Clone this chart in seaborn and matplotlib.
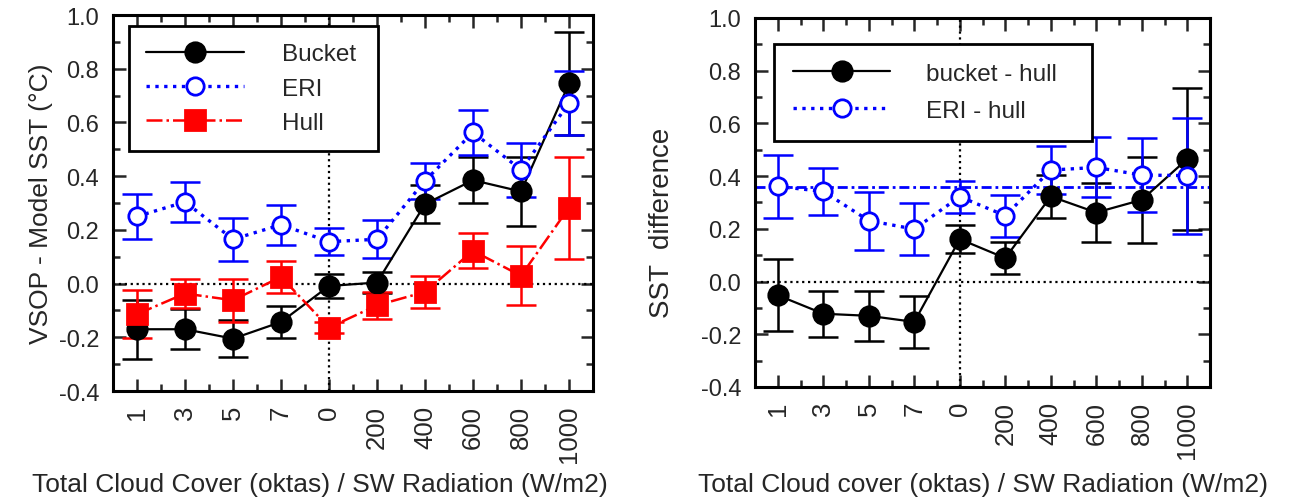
#!/usr/bin/env python3
"""
VSOP vs model SST by cloud cover / SW radiation bins, and bucket/ERI minus hull.
"""

import numpy as np
import pandas as pd
import matplotlib
matplotlib.use("Agg")
import matplotlib.pyplot as plt
from matplotlib.ticker import MultipleLocator, FixedLocator
import seaborn as sns

# ---- data ----
bins = ["1", "3", "5", "7", "0", "200", "400", "600", "800", "1000"]

bucket = [-0.17, -0.17, -0.205, -0.143, -0.009, 0.004, 0.296, 0.385, 0.343, 0.745]
bucket_err = [0.11, 0.075, 0.07, 0.06, 0.045, 0.04, 0.07, 0.085, 0.13, 0.19]

eri = [0.25, 0.304, 0.165, 0.219, 0.156, 0.165, 0.383, 0.563, 0.424, 0.672]
eri_err = [0.085, 0.075, 0.08, 0.075, 0.05, 0.07, 0.067, 0.085, 0.10, 0.12]

hull = [-0.114, -0.037, -0.062, 0.025, -0.164, -0.081, -0.031, 0.122, 0.029, 0.283]
hull_err = [0.09, 0.055, 0.08, 0.06, 0.02, 0.05, 0.06, 0.065, 0.11, 0.19]

bucket_hull = [-0.052, -0.122, -0.13, -0.153, 0.161, 0.089, 0.323, 0.262, 0.31, 0.465]
bucket_hull_err = [0.137, 0.088, 0.095, 0.10, 0.052, 0.06, 0.08, 0.112, 0.163, 0.27]

eri_hull = [0.361, 0.342, 0.231, 0.199, 0.322, 0.25, 0.423, 0.433, 0.404, 0.402]
eri_hull_err = [0.12, 0.09, 0.11, 0.10, 0.06, 0.08, 0.092, 0.114, 0.14, 0.22]
eri_hull_mean = 0.357

BLUE = "#0000ff"
RED = "#ff0000"


def draw_series(ax, x, y, err, label, color, ls, lw, marker, ms, mfc):
    df = pd.DataFrame({"x": x, "y": y})
    ax.errorbar(x, y, yerr=err, fmt="none", ecolor=color, elinewidth=1.8,
                capsize=11, capthick=1.8, zorder=3)
    sns.lineplot(data=df, x="x", y="y", ax=ax, color=color, linestyle=ls,
                 linewidth=lw, marker=marker, markersize=ms,
                 markerfacecolor=mfc, markeredgecolor=color,
                 markeredgewidth=2, label=label, zorder=4)


def style_axes(ax, xlabel, ylabel, ylabelpad, ylabel_size, xlabelpad):
    ax.set_xlim(-0.5, len(bins) - 0.5)
    ax.set_ylim(-0.4, 1.0)
    ax.axhline(0, color="black", linestyle=":", linewidth=1.6, zorder=1)
    ax.axvline(4, color="black", linestyle=":", linewidth=1.6, zorder=1)

    ax.xaxis.set_major_locator(FixedLocator(range(len(bins))))
    ax.xaxis.set_minor_locator(FixedLocator(np.arange(0.5, len(bins) - 1, 1.0)))
    ax.set_xticklabels(bins, rotation=90, fontsize=18.5, va="top")
    ax.yaxis.set_minor_locator(MultipleLocator(0.1))
    yt = np.arange(-0.4, 1.01, 0.2)
    ax.set_yticks(yt)
    ax.set_yticklabels([f"{v:.1f}" for v in yt], fontsize=17)

    ax.tick_params(which="both", direction="in", top=True, right=True, width=1.8)
    ax.tick_params(which="major", length=9, pad=10)
    ax.tick_params(which="minor", length=5)
    for s in ax.spines.values():
        s.set_linewidth(2.2)
        s.set_color("black")

    ax.set_xlabel(xlabel, fontsize=19, labelpad=xlabelpad)
    ax.set_ylabel(ylabel, fontsize=ylabel_size, labelpad=ylabelpad)


def boxed_legend(ax, bbox, spacing, pad, textpad):
    leg = ax.legend(loc="upper left", bbox_to_anchor=bbox, mode="expand",
                    borderaxespad=0, fontsize=17.5, frameon=True, fancybox=False,
                    handlelength=4.0, handletextpad=textpad,
                    labelspacing=spacing, borderpad=pad)
    leg.get_frame().set_edgecolor("black")
    leg.get_frame().set_linewidth(2)
    leg.get_frame().set_alpha(1)
    return leg


def main():
    sns.set_theme(style="ticks")
    plt.rcParams["font.family"] = ["Liberation Sans", "DejaVu Sans"]
    plt.rcParams["axes.unicode_minus"] = False

    fig = plt.figure(figsize=(12.9, 5.02), dpi=100)
    x = list(range(len(bins)))

    # left panel
    ax1 = fig.add_axes([0.0876, 0.2191, 0.3721, 0.749])
    draw_series(ax1, x, bucket, bucket_err, "Bucket", "black", "-", 1.6, "o", 14, "black")
    draw_series(ax1, x, eri, eri_err, "ERI", BLUE, ":", 2.4, "o", 12.5, "white")
    draw_series(ax1, x, hull, hull_err, "Hull", RED, "-.", 1.8, "s", 14, RED)
    style_axes(ax1, "Total Cloud Cover (oktas) / SW Radiation (W/m2)",
               "VSOP - Model SST (\u00b0C)", 4, 19, 9)
    ax1.xaxis.set_label_coords(0.431, -0.215)
    ax1.xaxis.label.set_va("top")
    boxed_legend(ax1, (0.033, 0.0, 0.519, 0.971), 0.5, 0.72, 1.58)

    # right panel
    ax2 = fig.add_axes([0.5853, 0.2271, 0.3527, 0.7351])
    draw_series(ax2, x, bucket_hull, bucket_hull_err, "bucket - hull", "black", "-", 1.6, "o", 14, "black")
    draw_series(ax2, x, eri_hull, eri_hull_err, "ERI - hull", BLUE, ":", 2.4, "o", 12.5, "white")
    ax2.axhline(eri_hull_mean, color=BLUE, linestyle=(0, (3.6, 1.4, 1, 1.4)),
                linewidth=2, zorder=2)
    style_axes(ax2, "Total Cloud cover (oktas) / SW Radiation (W/m2)",
               "SST  difference", 9, 20, 10)
    ax2.yaxis.set_label_coords(-0.175, 0.447)
    boxed_legend(ax2, (0.042, 0.0, 0.699, 0.93), 0.62, 0.78, 1.48)

    fig.savefig("out.png", dpi=100)
    plt.close(fig)


if __name__ == "__main__":
    main()
